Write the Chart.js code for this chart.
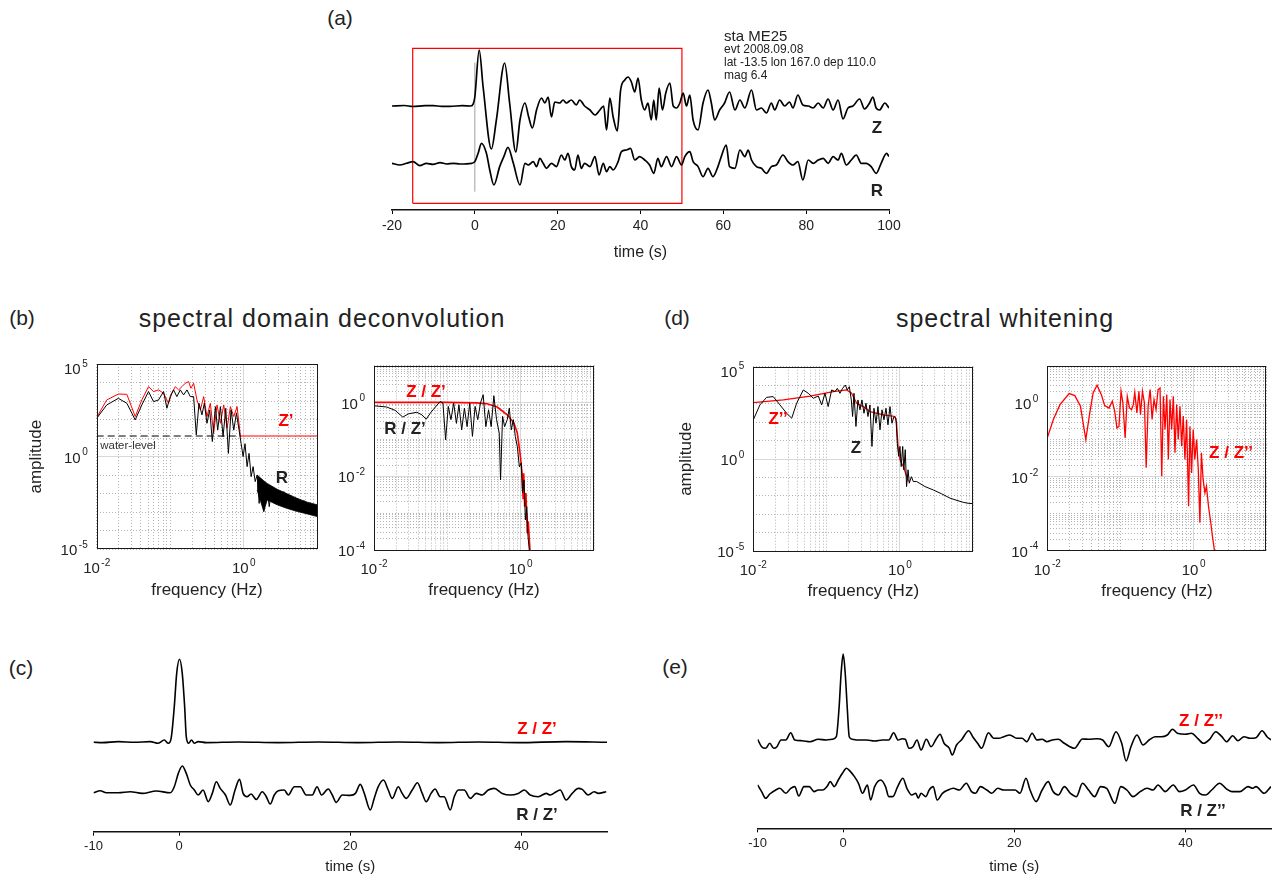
<!DOCTYPE html>
<html>
<head>
<meta charset="utf-8">
<script src="https://cdn.jsdelivr.net/npm/chart.js@4.4.0/dist/chart.umd.min.js"></script>
<style>
body { margin:0; background:#fff; width:1274px; height:880px; position:relative; overflow:hidden;
       font-family:"Liberation Sans", Arial, Helvetica, sans-serif; color:#222; }
canvas { position:absolute; }
.t { position:absolute; transform:translate(-50%,-50%); white-space:nowrap; }
.l { position:absolute; transform:translateY(-50%); white-space:nowrap; }
.b { font-weight:bold; }
.red { color:#ff0000; }
</style>
</head>
<body>
<canvas id="chA" width="560" height="250" style="left:360px;top:20px"></canvas>
<canvas id="chB1" width="320" height="260" style="left:20px;top:350px"></canvas>
<canvas id="chB2" width="290" height="260" style="left:330px;top:350px"></canvas>
<canvas id="chD1" width="320" height="260" style="left:676px;top:352px"></canvas>
<canvas id="chD2" width="284" height="260" style="left:990px;top:352px"></canvas>
<canvas id="chC" width="570" height="240" style="left:60px;top:640px"></canvas>
<canvas id="chE" width="554" height="240" style="left:720px;top:640px"></canvas>

<div class="t" style="left:340px;top:18px;font-size:21px">(a)</div>
<div class="t" style="left:22px;top:318px;font-size:21px">(b)</div>
<div class="t" style="left:677px;top:318px;font-size:21px">(d)</div>
<div class="t" style="left:21px;top:668px;font-size:21px">(c)</div>
<div class="t" style="left:675px;top:667px;font-size:21px">(e)</div>
<div class="t" style="left:322px;top:318px;font-size:25px;letter-spacing:1px">spectral domain deconvolution</div>
<div class="t" style="left:1005px;top:318px;font-size:25px;letter-spacing:1px">spectral whitening</div>

<div class="l" style="left:724px;top:35px;font-size:15px">sta ME25</div>
<div class="l" style="left:724px;top:49px;font-size:12px">evt 2008.09.08</div>
<div class="l" style="left:724px;top:62px;font-size:12px">lat -13.5 lon 167.0 dep 110.0</div>
<div class="l" style="left:724px;top:75px;font-size:12px">mag 6.4</div>

<div class="t b" style="left:877px;top:128px;font-size:17px">Z</div>
<div class="t b" style="left:877px;top:191px;font-size:17px">R</div>
<div class="t b red" style="left:286px;top:421px;font-size:17px">Z’</div>
<div class="t b" style="left:282px;top:478px;font-size:17px">R</div>
<div class="t" style="left:128px;top:445px;font-size:11.5px;color:#333">water-level</div>
<div class="t b red" style="left:426px;top:392px;font-size:17px">Z / Z’</div>
<div class="t b" style="left:405px;top:429px;font-size:17px">R / Z’</div>
<div class="t b red" style="left:778px;top:419px;font-size:17px">Z’’</div>
<div class="t b" style="left:856px;top:448px;font-size:17px">Z</div>
<div class="t b red" style="left:1231px;top:453px;font-size:17px">Z / Z’’</div>
<div class="t b red" style="left:537px;top:729px;font-size:17px">Z / Z’</div>
<div class="t b" style="left:537px;top:815px;font-size:17px">R / Z’</div>
<div class="t b red" style="left:1201px;top:721px;font-size:17px">Z / Z’’</div>
<div class="t b" style="left:1203px;top:811px;font-size:17px">R / Z’’</div>

<script>
// ---------- (a) seismograms: [time s, amplitude] ----------
const aTicks = [-20, 0, 20, 40, 60, 80, 100];
const zTrace = [[-20,0],[-17,0.5],[-15,-0.5],[-12,0.3],[-10,0.3],[-8,-0.3],[-6,-0.3],[-3,0.3],[-1,0],[-0.4,2],[0,9],[1.05,56],[2,19],[4,-43],[5.2,-14],[7.2,43],[8.4,3],[9.9,-46],[10.9,-14],[12.1,3],[13,-11],[13.9,-22],[14.9,-4],[16.1,8],[16.9,3],[17.7,9],[18.5,-11],[19.3,4],[20.5,3],[21.3,6],[22.1,3],[23.3,6],[24.5,1],[25.3,6],[26.5,0],[27.8,-4],[29,-9],[30.2,-4],[31.1,0],[31.8,-24],[32.6,8],[33.4,-11],[34.4,-25],[35.2,16],[36.2,26],[37,29],[37.8,24],[38.6,14],[39.4,28],[40.2,6],[41,-4],[41.8,3],[42.6,-14],[43.2,6],[43.8,-14],[44.5,18],[45.3,-4],[46.1,13],[47.1,23],[47.9,0],[48.7,-2],[49.5,3],[50.3,13],[51.1,0],[51.9,11],[52.7,-14],[53.9,-24],[55.1,3],[56.3,16],[57.1,3],[57.9,-14],[59.1,-4],[60.3,3],[61.5,14],[62.8,-4],[64,6],[65.2,-2],[66.8,16],[68,-4],[69.2,-2],[70.4,-7],[71.6,3],[72.4,-4],[73.6,6],[74.8,0],[76,4],[76.8,-2],[78,11],[79.2,1],[80.5,0],[81.7,-2],[82.9,3],[84.1,-2],[85.3,7],[86.5,-4],[87.7,6],[88.9,-13],[90.1,-2],[91.3,0],[92.9,7],[94.1,-3],[95.3,3],[96.1,9],[96.9,-2],[97.7,-4],[99,3],[100,-2]];
const rTrace = [[-20,0],[-18.1,-1.7],[-16.5,0],[-14.9,1.7],[-13.3,-2.3],[-11.7,0],[-10.1,-1],[-8.4,0.7],[-6.8,-0.7],[-5.2,0],[-3.6,-0.7],[-0.8,0],[0,1.7],[0.8,10],[1.6,20],[2.8,10],[3.6,-6.7],[4.6,-21.7],[6,-3.3],[7,6.7],[8,16],[9.3,0],[10.9,-21.7],[12.1,0],[12.9,-1.7],[14.1,1.7],[14.9,-3.3],[15.7,5],[16.5,0],[17.3,-5],[18.5,0],[19.7,-3.3],[20.9,8.3],[21.7,3.3],[22.5,10],[23.3,-3.3],[24.1,-6.7],[24.9,8.3],[25.7,-5],[26.5,0],[27.8,-3.3],[29,6.7],[30,-11.7],[31,0],[31.8,-8.3],[32.6,-3.3],[33.4,-6.7],[34.6,1.7],[35.4,11.7],[36.6,13.3],[37.6,15],[38.6,3.3],[39.8,6.7],[41,3.3],[42.2,-1.7],[43.2,-10],[44.2,5],[45,-3.3],[46.3,6.7],[47.5,-3.3],[48.7,6.7],[49.9,-1.7],[50.7,6.7],[51.9,11.7],[52.7,1.7],[53.9,-3.3],[55.1,-13.3],[56.3,-5],[57.5,-13.3],[58.7,-3.3],[59.5,6.7],[60.7,18.3],[61.5,-3.3],[62.8,-5],[64,13.3],[65.2,6.7],[66,13.3],[66.8,3.3],[68,-3.3],[69.2,-5],[70.4,-10],[71.6,-3.3],[72.8,-1.7],[74.4,8.3],[75.6,1.7],[76.8,-1.7],[78,1.7],[79.2,-16.7],[80.5,3.3],[81.7,0],[82.9,3.3],[84.1,5],[85.3,0],[86.5,6.7],[87.7,3.3],[88.5,10],[89.7,-1.7],[90.9,3.3],[92.1,8.3],[93.3,0],[94.5,0],[95.7,-3.3],[96.9,-10],[98.1,0],[99.4,10],[100,6.7]];
const boxTime = [-15, 50];
const boxAmp = [6.7, 161.7];
const onsetAmp = [18.3, 147.3];

// ---------- (b) spectra: [frequency Hz, amplitude] ----------
const bZprime = [[0.01,132],[0.0137,1150],[0.0197,2400],[0.0257,2300],[0.0334,145],[0.0411,1150],[0.0507,6000],[0.0593,3240],[0.0693,4000],[0.0812,2640],[0.0949,760],[0.105,2640],[0.117,6000],[0.13,4000],[0.144,6000],[0.16,9100],[0.178,11200],[0.191,4900],[0.208,9100],[0.231,1150],[0.257,330],[0.285,1740],[0.316,145],[0.351,760],[0.389,18],[0.433,620],[0.481,63],[0.534,620],[0.593,34],[0.658,500],[0.731,145],[0.811,500],[0.9,13],[10,13]];
const bR = [[0.01,117],[0.0137,620],[0.0197,1400],[0.0257,760],[0.0334,96],[0.0411,620],[0.0507,3240],[0.0593,930],[0.0693,1150],[0.0812,3240],[0.0901,410],[0.1,1740],[0.111,4000],[0.123,1740],[0.137,4000],[0.152,2140],[0.169,4000],[0.187,1740],[0.208,1740],[0.226,15],[0.246,760],[0.27,180],[0.291,760],[0.316,63],[0.344,330],[0.374,6.5],[0.411,500],[0.442,27],[0.481,500],[0.523,12],[0.569,410],[0.618,1.5],[0.672,330],[0.731,27],[0.794,220],[0.864,27],[0.92,5.2],[0.98,1],[1.04,5],[1.11,0.29],[1.18,1.5],[1.26,0.083],[1.34,0.29],[1.43,0.045],[1.52,0.1],[1.62,0.003],[1.72,0.055],[1.87,0.0011],[2.04,0.03],[2.22,0.002],[2.41,0.024],[2.62,0.003],[2.85,0.016],[3.16,0.0025],[3.51,0.013],[3.9,0.002],[4.33,0.0085],[4.81,0.0016],[5.34,0.0056],[5.93,0.0013],[6.58,0.0042],[7.31,0.0011],[8.11,0.003],[9.01,0.00087],[10,0.0025]];
const bBandFreq = [1.52, 1.87, 2.08, 2.85, 3.9, 5.34, 7.31, 10];
const bBandTop = [0.102, 0.05, 0.036, 0.0174, 0.0098, 0.0056, 0.0035, 0.0025];
const bBandBottom = [0.016, 0.0011, 0.0046, 0.0025, 0.0016, 0.0011, 0.00081, 0.00058];
const waterLevel = [[0.01,13],[0.92,13]];
const bZoverZ = [[0.01,1],[0.1,1],[0.25,0.97],[0.349,0.92],[0.479,0.75],[0.656,0.46],[0.81,0.275],[0.9,0.148],[0.98,0.042],[1.02,0.02],[1.05,0.0098],[1.08,0.0025],[1.1,0.012],[1.135,0.0015],[1.18,0.0035],[1.23,0.00028],[1.27,0.0006],[1.34,0.0001]];
const bRoverZ = [[0.01,0.81],[0.0149,0.75],[0.0194,0.61],[0.0247,0.4],[0.0295,0.49],[0.0384,0.54],[0.045,0.46],[0.0515,0.35],[0.0585,0.51],[0.0686,0.75],[0.08,1.06],[0.0871,0.96],[0.0948,0.097],[0.103,0.78],[0.112,0.34],[0.122,0.96],[0.133,0.27],[0.144,0.86],[0.157,0.18],[0.171,0.7],[0.186,0.22],[0.202,0.96],[0.22,0.12],[0.239,0.78],[0.26,0.34],[0.283,0.96],[0.308,1.62],[0.335,0.22],[0.365,0.63],[0.396,0.22],[0.431,1.52],[0.469,0.34],[0.51,0.148],[0.532,0.0079],[0.566,0.42],[0.604,0.22],[0.656,0.34],[0.7,0.7],[0.745,0.18],[0.794,0.34],[0.845,0.12],[0.9,0.064],[0.96,0.018],[1.02,0.023],[1.06,0.0035],[1.11,0.0079],[1.16,0.00065],[1.21,0.0015],[1.26,0.00023],[1.31,0.0001]];

// ---------- (d) spectra ----------
const dZsmooth = [[0.01,1130],[0.0257,1580],[0.0593,2570],[0.123,4470],[0.187,5500],[0.219,3630],[0.257,1050],[0.316,690],[0.39,370],[0.593,245],[0.855,200],[0.9,87],[0.95,3.2],[1,0.9],[1.11,0.39],[1.3,0.06]];
const dZ = [[0.01,132],[0.0123,850],[0.0152,2190],[0.0187,2400],[0.0231,850],[0.0285,300],[0.0334,162],[0.039,1050],[0.0481,5500],[0.0562,3630],[0.0658,1950],[0.0769,2570],[0.0855,850],[0.0949,3630],[0.105,690],[0.117,5500],[0.13,4470],[0.14,6760],[0.152,3630],[0.165,6760],[0.18,10200],[0.191,5500],[0.204,8300],[0.217,1580],[0.226,200],[0.236,3630],[0.251,58],[0.267,1580],[0.285,460],[0.303,1580],[0.323,300],[0.344,1050],[0.366,200],[0.39,850],[0.415,4.8],[0.442,560],[0.471,87],[0.501,690],[0.534,38],[0.569,460],[0.605,132],[0.645,560],[0.686,71],[0.731,690],[0.778,87],[0.828,200],[0.882,162],[0.92,7.2],[0.96,1.4],[1,4.8],[1.04,0.39],[1.09,4.8],[1.13,0.26],[1.18,3.2],[1.23,0.032],[1.29,0.26],[1.34,0.049],[1.43,0.11],[1.52,0.06],[1.69,0.06],[2.2,0.032],[2.85,0.021],[3.7,0.013],[4.81,0.0076],[6,0.0057],[7.31,0.0045],[8.5,0.004],[10,0.0038]];
const dZoverZ = [[0.01,0.113],[0.0121,0.355],[0.0149,0.9],[0.0199,1.79],[0.0238,1.58],[0.0284,0.81],[0.0336,0.102],[0.0381,0.54],[0.0423,1.86],[0.0479,3],[0.0548,1.68],[0.0609,0.85],[0.0698,0.73],[0.0775,1.11],[0.0834,0.6],[0.0896,0.21],[0.0955,0.23],[0.102,2.07],[0.108,1],[0.116,0.113],[0.124,1.51],[0.133,0.73],[0.142,0.66],[0.15,0.9],[0.157,1.94],[0.168,0.54],[0.179,2.07],[0.188,0.48],[0.2,2.07],[0.213,1],[0.225,0.0175],[0.239,0.81],[0.255,2.3],[0.271,0.355],[0.288,1.23],[0.307,0.66],[0.327,2.3],[0.348,2.54],[0.367,0.0104],[0.387,1.51],[0.407,0.19],[0.43,1.68],[0.452,0.0295],[0.476,1.23],[0.502,0.19],[0.529,1.51],[0.557,0.0446],[0.587,0.9],[0.618,0.102],[0.652,0.81],[0.687,0.067],[0.723,0.44],[0.762,0.0295],[0.803,0.355],[0.855,0.0016],[0.891,0.23],[0.939,0.0128],[0.989,0.19],[1.04,0.0295],[1.1,0.102],[1.16,0.0158],[1.22,0.00057],[1.28,0.0446],[1.35,0.0085],[1.43,0.0037],[1.5,0.0056],[1.6,0.0016],[1.72,0.00057],[1.81,0.00025],[1.93,0.0001]];

// log axis labels
const freqLabels = [0.01, 1];
const ampLabelsWide = [1e-5, 1, 1e5];
const ampLabelsRatio = [1e-4, 1e-2, 1];

// ---------- (c), (e) receiver functions: [time s, amplitude] ----------
const ceTicks = [-10, 0, 20, 40];
const cZ = [[-10,0],[-8.97,-0.3],[-7.1,0.7],[-5.23,0],[-3.36,0.7],[-2.43,-1],[-1.73,2.3],[-1.26,-1],[-0.93,4],[-0.56,35.7],[-0.28,69],[0.05,83],[0.37,69],[0.65,35.7],[0.84,5.7],[1.12,-1],[1.45,2.3],[1.78,-1],[2.24,0.7],[3.18,-0.3],[6.9,0.3],[11.6,-0.3],[16.3,0.3],[20.9,-0.3],[25.6,0.3],[30.3,-0.3],[35,0.3],[39.6,-0.3],[45.2,0.7],[50,0]];
const cR = [[-10,0],[-9.21,2],[-8.5,0],[-7.1,0],[-5.7,1],[-4.3,-0.7],[-2.66,1.7],[-1.03,0],[-0.56,6],[-0.09,19.3],[0.37,26.7],[0.84,19.3],[1.31,7.7],[1.78,2.7],[2.24,-2.3],[2.8,2.7],[3.41,-9],[3.88,-0.7],[4.35,11],[4.81,4.3],[5.42,-2.3],[5.98,-12.3],[6.54,2.7],[7.06,13.3],[7.48,-0.7],[7.94,-4],[8.41,-1.3],[9.02,-6.7],[9.72,1],[10.19,-4],[10.65,-11.3],[11.12,-2.3],[11.59,2],[12.29,2.7],[12.76,-2.3],[13.46,6],[14.16,6],[14.86,-2.3],[15.56,-2.3],[16.12,6],[16.64,-2.3],[17.43,3.7],[17.9,-2.3],[18.36,-9.7],[19.07,-2.3],[20,-2.7],[20.61,-0.7],[21.17,8.3],[21.64,-0.7],[22.34,-17.3],[22.8,-5.7],[23.27,6],[23.88,12.7],[24.44,2.7],[24.91,-5.7],[25.61,6],[26.07,-0.7],[26.54,-5.7],[27.24,2.7],[27.85,10],[28.41,-0.7],[28.88,-9],[29.44,-0.7],[29.91,3.7],[30.51,-4],[30.98,-4],[31.68,-17.3],[32.15,-4],[32.62,2.7],[33.32,2.7],[34.02,-5.7],[34.72,-0.7],[35.42,-2.3],[36.12,2.7],[36.82,4.3],[37.76,-0.7],[38.69,-2.3],[39.63,-0.7],[40.33,2.7],[41.03,-2.3],[41.96,-4],[42.9,-0.7],[43.36,-2.3],[44.07,1],[44.53,2.7],[45.23,-7.3],[45.93,-0.7],[46.64,4.3],[47.1,3.3],[47.8,-2.3],[48.5,1],[48.97,-0.7],[49.91,1]];
const eZ = [[-10,0.7],[-9.53,-6.7],[-9.06,-8.3],[-8.58,-3.3],[-8.11,-8.3],[-7.74,-6.7],[-7.26,0],[-6.7,0],[-6.13,7.3],[-5.66,0],[-4.81,-0.7],[-3.87,-1.7],[-2.92,0.7],[-1.98,0],[-1.27,0.7],[-0.8,3.3],[-0.47,33.3],[-0.24,66.7],[0,86],[0.24,66.7],[0.47,33.3],[0.71,3.3],[1.08,0.7],[1.79,0],[2.74,0],[3.68,-1],[4.62,0],[5.33,0],[5.9,7.3],[6.42,0],[6.89,1.3],[7.26,0.7],[7.69,-8.3],[8.16,-6.7],[8.63,0],[9.1,-10],[9.72,0.7],[10.28,-6.7],[10.85,0.7],[11.32,5.7],[11.79,-3.3],[12.41,-8.3],[12.74,-15],[13.25,-5],[13.82,0],[14.67,9.3],[15.14,3.3],[15.71,-3.3],[16.18,-8.3],[16.98,7.3],[17.59,1.7],[18.21,1.7],[18.77,3.3],[19.48,5],[20.28,1.7],[20.9,1.7],[21.46,-1.7],[22.08,6.7],[22.64,0],[23.25,0.7],[23.82,-1.7],[24.43,0],[25.14,0.7],[25.85,-3.3],[27.03,-8.3],[27.97,1],[28.68,0.7],[29.62,1.3],[30.33,0],[31.04,-6.7],[31.89,8.3],[32.55,-3.3],[33.07,-21],[33.63,-6.7],[34.34,5],[35.05,-5],[35.75,0],[36.46,3.3],[37.17,3.3],[37.88,5],[38.49,10.7],[39.06,6.7],[40,5.7],[40.71,6.7],[41.42,1.7],[42.12,-3.3],[42.83,0.7],[43.54,8.3],[44.25,3.3],[44.81,-1.7],[45.52,4.3],[46.13,-0.7],[46.84,3.3],[47.55,1.7],[48.25,2.3],[48.96,9.3],[49.53,3.3],[50,0]];
const eR = [[-10,3.3],[-9.53,-3.3],[-9.06,-10],[-8.58,-5.7],[-7.88,-1.7],[-7.41,0],[-6.7,-5],[-6.13,0],[-5.66,1.7],[-5.19,-7.7],[-4.58,1.7],[-3.96,1.7],[-3.4,-3.3],[-2.92,-1.7],[-2.36,-1.7],[-1.89,1.7],[-1.51,6.7],[-1.04,1.7],[-0.57,8.3],[-0.09,15],[0.38,20],[0.85,16.7],[1.32,11.7],[1.79,5],[2.26,-5],[2.83,3.3],[3.21,-11.7],[3.68,1.7],[4.39,8.3],[4.95,1.7],[5.33,-8.3],[5.8,-8.3],[6.37,1.7],[6.98,10],[7.45,0],[8.02,-6.7],[8.49,-5],[8.77,-10],[9.1,-5],[9.67,-8.3],[10.05,-1.7],[10.52,1.7],[10.99,-11.7],[11.6,-5],[12.26,-1.7],[12.88,0],[13.58,-1.7],[14.39,5],[15,-3.3],[15.47,-5],[16.04,1.7],[16.79,-1.7],[17.36,-5],[18.07,0],[18.77,-1.7],[19.48,-1.7],[20.09,-1.7],[20.66,-5],[21.37,10],[21.84,-1.7],[22.55,-13.3],[23.25,-1.7],[23.96,6.7],[24.53,-3.3],[25.14,-6.7],[25.85,1.7],[26.56,-5],[27.26,-8.3],[27.97,5],[28.68,-1.7],[29.39,-8.3],[30.09,1.7],[30.8,0],[31.75,-15],[32.45,1.7],[33.16,-1.7],[33.87,-8.3],[34.72,-3.3],[35.52,0],[36.23,-1.7],[36.79,3.3],[37.64,-3.3],[38.58,3.3],[39.29,-3.3],[40,-1.7],[40.94,3.3],[41.65,-5],[42.36,-6.7],[43.07,-1.7],[44.01,5],[44.72,0],[45.42,-3.3],[46.37,-3.3],[47.31,1.7],[47.88,0],[48.25,1.7],[49.2,-5],[50,1.7]];

// trace offsets inside each panel (vertical stacking)
const aZBase = 104, aRBase = 46.7;
const cZBase = 89.4, cRBase = 39;
const eZBase = 88.3, eRBase = 40;

Chart.defaults.font.family = '"Liberation Sans", Arial, Helvetica, sans-serif';
Chart.defaults.color = '#222';

function pts(arr, base) {
    return arr.map(p => ({x: p[0], y: p[1] + (base || 0)}));
}

function trace(data, color, width, extra) {
    return Object.assign({data: data, borderColor: color, borderWidth: width, pointRadius: 0,
        fill: false, tension: 0}, extra || {});
}

// time axis panels (a), (c), (e)
function timeChart(id, cfg) {
    return new Chart(document.getElementById(id), {
        type: 'line',
        data: {datasets: cfg.datasets},
        options: {
            responsive: false, animation: false, devicePixelRatio: 1,
            layout: {padding: cfg.padding},
            plugins: {legend: {display: false}, tooltip: {enabled: false}},
            scales: {
                x: {
                    type: 'linear', min: cfg.xMin, max: cfg.xMax,
                    afterBuildTicks: s => { s.ticks = cfg.ticks.map(v => ({value: v})); },
                    afterFit: s => { s.height = cfg.xHeight; },
                    ticks: {font: {size: cfg.tickSize}, padding: cfg.tickPad, maxRotation: 0, color: '#222',
                        callback: v => String(v)},
                    grid: {drawOnChartArea: false, drawTicks: true, tickLength: 4, color: '#000', tickWidth: 1},
                    border: {display: true, color: '#111', width: 1.5},
                    title: {display: true, text: 'time (s)', font: {size: cfg.titleSize}, color: '#222',
                        padding: {top: 0, bottom: cfg.titlePad}}
                },
                y: {display: false, min: 0, max: 180}
            }
        }
    });
}

// log-log spectra panels
function near(a, b) { return Math.abs(Math.log10(a) - Math.log10(b)) < 1e-6; }

function logGridValues(min, max, allMinor) {
    const out = [];
    for (let e = Math.floor(Math.log10(min)); e <= Math.ceil(Math.log10(max)); e++) {
        for (let m = 1; m <= (allMinor ? 9 : 1); m++) {
            const v = m * Math.pow(10, e);
            if (v >= min * 0.999 && v <= max * 1.001) out.push(v);
        }
    }
    return out;
}

function logAxis(dir, min, max, allMinor, majors, title, size, titlePad) {
    const isMajor = c => c.tick && majors.some(m => near(c.tick.value, m));
    return {
        type: 'logarithmic', min: min, max: max,
        position: dir === 'x' ? 'bottom' : 'left',
        afterBuildTicks: s => { s.ticks = logGridValues(min, max, allMinor).map(v => ({value: v})); },
        afterFit: s => { if (dir === 'x') s.height = size; else s.width = size; },
        ticks: {display: false},
        grid: {drawTicks: false, lineWidth: 1, color: c => isMajor(c) ? '#d8d8d8' : '#b4b4b4'},
        border: {display: false, dash: c => isMajor(c) ? [] : [1, 2]},
        title: {display: !!title, text: title || '', font: {size: 17}, color: '#222',
            padding: dir === 'x' ? {top: 0, bottom: titlePad} : {top: titlePad, bottom: 0}}
    };
}

function drawPow(ctx, x, y, e, align) {
    const big = '15px "Liberation Sans", Arial, sans-serif';
    const small = '10px "Liberation Sans", Arial, sans-serif';
    ctx.font = big;
    const w1 = ctx.measureText('10').width;
    ctx.font = small;
    const w2 = ctx.measureText(String(e)).width;
    const gap = 1.5;
    const x0 = align === 'center' ? x - (w1 + gap + w2) / 2 : x - (w1 + gap + w2);
    ctx.textAlign = 'left';
    ctx.textBaseline = 'middle';
    ctx.font = big;
    ctx.fillText('10', x0, y);
    ctx.font = small;
    ctx.fillText(String(e), x0 + w1 + gap, y - 6);
}

const powLabels = {
    id: 'powLabels',
    afterDraw(chart, args, o) {
        if (!o || !o.x) return;
        const {ctx, chartArea: a} = chart;
        ctx.save();
        ctx.strokeStyle = '#1a1a1a';
        ctx.lineWidth = 1;
        ctx.strokeRect(Math.round(a.left) + 0.5, Math.round(a.top) + 0.5,
            Math.round(a.width) - 1, Math.round(a.height) - 1);
        ctx.fillStyle = '#222';
        o.x.forEach(v => {
            drawPow(ctx, chart.scales.x.getPixelForValue(v), a.bottom + 20, Math.round(Math.log10(v)), 'center');
        });
        o.y.forEach(v => {
            const py = chart.scales.y.getPixelForValue(v);
            drawPow(ctx, a.left - 9, Math.max(py + 2, a.top + 6), Math.round(Math.log10(v)), 'right');
        });
        ctx.restore();
    }
};

function specChart(id, cfg) {
    return new Chart(document.getElementById(id), {
        type: 'line',
        data: {datasets: cfg.datasets},
        options: {
            responsive: false, animation: false, devicePixelRatio: 1,
            layout: {padding: {left: 0, right: cfg.padRight, top: cfg.padTop, bottom: 0}},
            plugins: {legend: {display: false}, tooltip: {enabled: false},
                powLabels: {x: freqLabels, y: cfg.yLabels}},
            scales: {
                x: logAxis('x', 0.01, 10, true, [1], 'frequency (Hz)', cfg.xHeight, cfg.xTitlePad),
                y: logAxis('y', cfg.yMin, cfg.yMax, cfg.yMinor, cfg.yMajors, cfg.yTitle, cfg.yWidth, cfg.yTitlePad)
            }
        },
        plugins: [powLabels]
    });
}

// (a)
timeChart('chA', {
    padding: {left: 32, right: 31, top: 10, bottom: 0},
    xMin: -20, xMax: 100, ticks: aTicks, xHeight: 60,
    tickSize: 14, tickPad: 4, titleSize: 16, titlePad: 8,
    datasets: [
        trace(pts(zTrace, aZBase), '#000', 1.7, {cubicInterpolationMode: 'monotone'}),
        trace(pts(rTrace, aRBase), '#000', 1.7, {cubicInterpolationMode: 'monotone'}),
        trace([{x: 0, y: onsetAmp[0]}, {x: 0, y: onsetAmp[1]}], '#a0a0a0', 1),
        trace([{x: boxTime[0], y: boxAmp[0]}, {x: boxTime[1], y: boxAmp[0]}, {x: boxTime[1], y: boxAmp[1]},
               {x: boxTime[0], y: boxAmp[1]}, {x: boxTime[0], y: boxAmp[0]}], '#ff0000', 1.2)
    ]
});

// (b) left
specChart('chB1', {
    padRight: 22.7, padTop: 14, xHeight: 60.7, xTitlePad: 9.8,
    yMin: 1e-5, yMax: 1e5, yMinor: false, yMajors: [1], yTitle: 'amplitude', yWidth: 76.7, yTitlePad: 5.8,
    yLabels: ampLabelsWide,
    datasets: [
        trace(pts(bR), '#000', 1),
        trace(bBandFreq.map((f, i) => ({x: f, y: bBandTop[i]})), '#000', 0.8),
        trace(bBandFreq.map((f, i) => ({x: f, y: bBandBottom[i]})), '#000', 0.8, {fill: '-1', backgroundColor: '#000'}),
        trace(pts(bZprime), '#ff0000', 1),
        trace(pts(waterLevel), '#000', 1, {borderDash: [7, 4]})
    ]
});

// (b) right
specChart('chB2', {
    padRight: 26, padTop: 15.5, xHeight: 60, xTitlePad: 9.8,
    yMin: 1e-4, yMax: 10, yMinor: true, yMajors: [1, 0.01], yTitle: '', yWidth: 44, yTitlePad: 0,
    yLabels: ampLabelsRatio,
    datasets: [
        trace(pts(bRoverZ), '#000', 1),
        trace(pts(bZoverZ), '#ff0000', 1.6)
    ]
});

// (d) left
specChart('chD1', {
    padRight: 22.7, padTop: 14.7, xHeight: 60.7, xTitlePad: 10.8,
    yMin: 1e-5, yMax: 1e5, yMinor: false, yMajors: [1], yTitle: 'amplitude', yWidth: 77.3, yTitlePad: 0.5,
    yLabels: ampLabelsWide,
    datasets: [
        trace(pts(dZ), '#000', 1),
        trace(pts(dZsmooth), '#ff0000', 1.2)
    ]
});

// (d) right
specChart('chD2', {
    padRight: 7.3, padTop: 14, xHeight: 61.3, xTitlePad: 10.8,
    yMin: 1e-4, yMax: 10, yMinor: true, yMajors: [1, 0.01], yTitle: '', yWidth: 57.3, yTitlePad: 0,
    yLabels: ampLabelsRatio,
    datasets: [
        trace(pts(dZoverZ), '#ff0000', 1.3)
    ]
});

// (c)
timeChart('chC', {
    padding: {left: 33.5, right: 23, top: 11.7, bottom: 0},
    xMin: -10, xMax: 50, ticks: ceTicks, xHeight: 48.3,
    tickSize: 13, tickPad: 3, titleSize: 15, titlePad: 4.3,
    datasets: [
        trace(pts(cZ, cZBase), '#000', 1.6, {cubicInterpolationMode: 'monotone'}),
        trace(pts(cR, cRBase), '#000', 1.6, {cubicInterpolationMode: 'monotone'})
    ]
});

// (e)
timeChart('chE', {
    padding: {left: 37.6, right: 3, top: 8.3, bottom: 0},
    xMin: -10, xMax: 50, ticks: ceTicks, xHeight: 51.7,
    tickSize: 13, tickPad: 3, titleSize: 15, titlePad: 4.3,
    datasets: [
        trace(pts(eZ, eZBase), '#000', 1.6, {cubicInterpolationMode: 'monotone'}),
        trace(pts(eR, eRBase), '#000', 1.6, {cubicInterpolationMode: 'monotone'})
    ]
});
</script>
</body>
</html>
